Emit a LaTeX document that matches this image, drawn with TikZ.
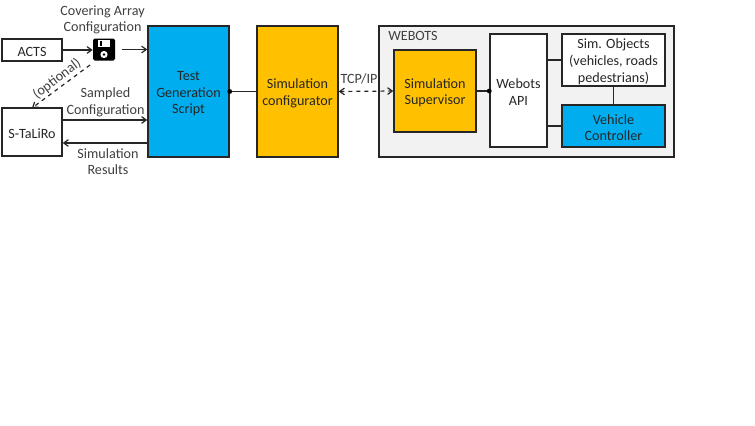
\documentclass[tikz,border=0pt]{standalone}
\usepackage{fontspec}
\setmainfont{Carlito}
\usetikzlibrary{arrows.meta,calc}
\definecolor{cyanbox}{HTML}{00AEEF}
\definecolor{amberbox}{HTML}{FFC000}
\definecolor{panel}{HTML}{F2F2F2}
\definecolor{ink}{HTML}{262626}
\definecolor{lab}{HTML}{404040}
\tikzset{
  px/.style={x=0.75pt,y=-0.75pt},
  blockbox/.style={draw=ink,line width=1.1pt,inner sep=0pt,align=center,text=ink,font=\fontsize{10.6}{12.5}\selectfont},
  label text/.style={text=lab,align=center,inner sep=0pt,font=\fontsize{10.6}{12.5}\selectfont},
  conn/.style={draw=ink,line width=0.9pt},
  arr/.style={conn,-{Straight Barb[length=3.5pt,width=5pt]}},
  dot/.style={circle,fill=black,inner sep=0pt,minimum size=3.6pt}
}
\begin{document}
\begin{tikzpicture}[px]
\useasboundingbox (0,0) rectangle (755,425);
\fill[white] (0,0) rectangle (755,425);
\newcommand{\blockat}[7]{\node[blockbox,fill=#2,minimum width=#5*0.75pt,minimum height=#6*0.75pt] (#1) at (#3,#4) {\rule{0pt}{10pt}#7};}
% left
\blockat{acts}{white}{32}{50}{60}{22}{ACTS}
\blockat{staliro}{white}{32}{132}{60}{48}{S-TaLiRo}
\blockat{tgs}{cyanbox}{188.5}{91.5}{81}{131}{Test\\Generation\\Script}
\blockat{simcfg}{amberbox}{297.5}{91.5}{81}{131}{Simulation\\configurator}
\blockat{webots}{panel}{526.5}{91.5}{295}{131}{}
\node[label text,anchor=west] (webotslabel) at (388,35.5) {WEBOTS};
\blockat{sup}{amberbox}{435}{91}{82}{82}{Simulation\\Supervisor}
\blockat{api}{white}{518.5}{90.5}{57}{113}{Webots\\API}
\blockat{objs}{white}{613.5}{60}{103}{52}{Sim. Objects\\(vehicles, roads\\pedestrians)}
\blockat{ctrl}{cyanbox}{613.5}{126}{103}{42}{Vehicle\\Controller}
% floppy icon
\node[fill=black,rounded corners=1.2pt,minimum width=16.5pt,minimum height=16.5pt,inner sep=0pt] (disk) at (104,49.5) {};
\fill[white] (98,39.5) rectangle (110,47);
\fill[black] (100,41) rectangle (102,45.5);
\fill[white] (104,54.5) circle (3.6);
\fill[black] (104,54.5) circle (1.3);
% labels
\node[label text] (covlab) at (102.5,20) {Covering Array\\Configuration};
\node[label text] (samlab) at (105.5,102) {Sampled\\Configuration};
\node[label text] (reslab) at (108,161.5) {Simulation\\Results};
\node[label text,rotate=37] (optlab) at (57,79) {(optional)};
\node[label text,anchor=south] (tcplab) at (359,84) {TCP/IP};
% connectors
\draw[arr] (acts.east) -- (acts.east -| disk.west);
\coordinate (diskout) at ($(disk.east)+(7,0)$);
\draw[arr] (diskout) -- (diskout -| tgs.west);
\coordinate (optend) at (32,108);
\draw[conn,dashed,-{Straight Barb[length=3.5pt,width=5pt]}] (90,65) -- (optend);
\coordinate (samfrom) at (62,120);
\draw[arr] (samfrom) -- (samfrom -| tgs.west);
\coordinate (resfrom) at (148,143);
\draw[arr] (resfrom) -- (resfrom -| staliro.east);
\draw[conn] (tgs.east) -- (simcfg.west);
\node[dot] (dota) at (tgs.east) {};
\draw[conn,dashed,{Straight Barb[length=3.5pt,width=5pt]}-{Straight Barb[length=3.5pt,width=5pt]}] (simcfg.east) -- (sup.west);
\draw[conn] (sup.east) -- (sup.east -| api.west);
\node[dot] (dotb) at (sup.east -| api.west) {};
\draw[conn] (objs.west -| api.east) -- (objs.west);
\draw[conn] (ctrl.west -| api.east) -- (ctrl.west);
\draw[conn] (objs.south) -- (ctrl.north);
\end{tikzpicture}
\end{document}
